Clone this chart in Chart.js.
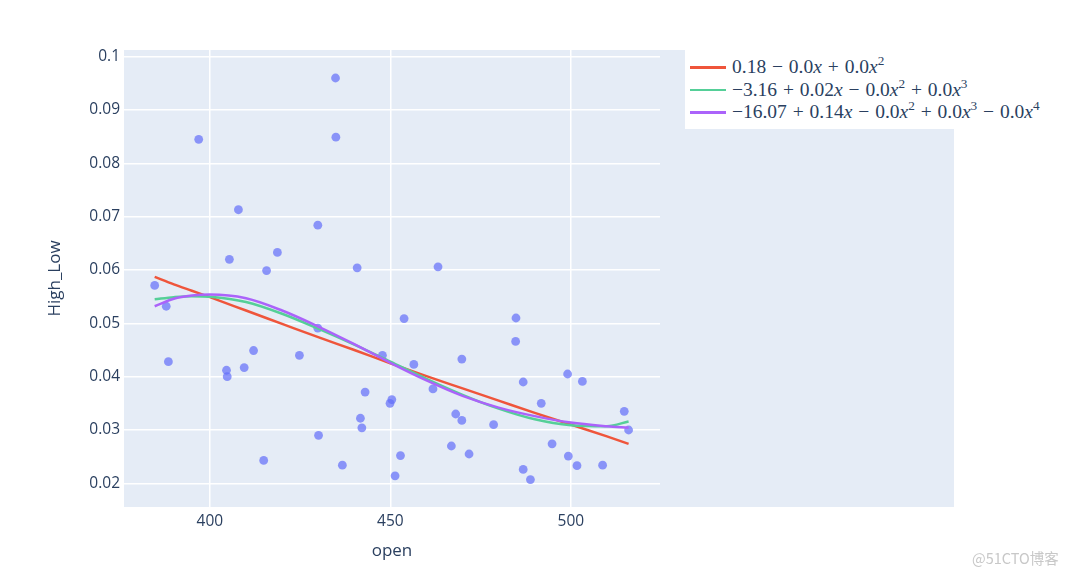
<!DOCTYPE html>
<html>
<head>
<meta charset="utf-8">
<script src="https://cdn.jsdelivr.net/npm/chart.js@4/dist/chart.umd.min.js"></script>
<style>
  body { margin: 0; background: #fff; }
  #wrap { position: relative; width: 1080px; height: 576px; }
  #legend {
    position: absolute; left: 685px; top: 50px; width: 380px; height: 79px;
    background: #fff; color: #2a3f5f;
    font-family: "Liberation Serif", "DejaVu Serif", serif; font-size: 19.5px;
  }
  .row { position: absolute; left: 0; height: 22px; line-height: 22px; white-space: nowrap; }
  .swatch { position: absolute; left: 5px; top: 10px; width: 36px; height: 2.5px; }
  .txt { position: absolute; left: 47px; top: 0; word-spacing: 1px; }
  .txt sup { font-size: 0.68em; line-height: 0; vertical-align: 0.6em; }
  #mark {
    position: absolute; left: 972px; top: 547px; color: #c8c8c8;
    font-family: "Noto Sans CJK SC", "Noto Sans", sans-serif; font-size: 14.5px;
  }
</style>
</head>
<body>
<div id="wrap">
  <canvas id="chart" width="1080" height="576"></canvas>
  <div id="legend"></div>
  <div id="mark">@51CTO博客</div>
</div>
<script>
// scatter points (open, High_Low)
const openVals = [384.7, 387.9, 388.5, 396.9, 404.6, 404.8, 405.4, 407.9, 409.5, 412.1,
  414.9, 415.7, 418.7, 424.8, 429.9, 429.9, 430.1, 434.8, 434.9, 436.7,
  440.8, 441.7, 442.1, 443.0, 447.8, 449.9, 450.4, 451.3, 452.8, 453.8,
  456.5, 461.8, 463.2, 466.9, 468.1, 469.8, 469.8, 471.8, 478.6, 484.8,
  484.7, 486.8, 486.8, 488.8, 491.8, 494.8, 499.1, 499.3, 501.7, 503.2,
  508.8, 514.8, 516.0];
const highLowVals = [0.0571, 0.0532, 0.0428, 0.0845, 0.0412, 0.0400, 0.0620, 0.0713, 0.0417, 0.0449,
  0.0243, 0.0599, 0.0633, 0.0440, 0.0684, 0.0491, 0.0290, 0.0960, 0.0849, 0.0234,
  0.0604, 0.0322, 0.0304, 0.0371, 0.0440, 0.0350, 0.0357, 0.0214, 0.0252, 0.0509,
  0.0423, 0.0377, 0.0606, 0.0270, 0.0330, 0.0318, 0.0433, 0.0255, 0.0310, 0.0510,
  0.0466, 0.0390, 0.0226, 0.0207, 0.0350, 0.0274, 0.0405, 0.0251, 0.0233, 0.0391,
  0.0234, 0.0335, 0.0300];

// fitted curves
const fitX = [384.7, 390, 395, 400, 410, 420, 430, 440, 450, 460, 470, 480, 490, 500, 510, 516];
const fit2 = [0.0587, 0.0573, 0.0561, 0.0549, 0.0524, 0.0499, 0.0474, 0.0450, 0.0425, 0.0401, 0.0378, 0.0355, 0.0332, 0.0310, 0.0288, 0.0274];
const fit3 = [0.0545, 0.0549, 0.0551, 0.0550, 0.0540, 0.0518, 0.0490, 0.0460, 0.0428, 0.0396, 0.0366, 0.0340, 0.0320, 0.0309, 0.0307, 0.0316];
const fit4 = [0.0532, 0.0546, 0.0552, 0.0554, 0.0547, 0.0524, 0.0494, 0.0461, 0.0426, 0.0393, 0.0364, 0.0342, 0.0326, 0.0314, 0.0307, 0.0304];

const fitNames = [
  '0.18 &minus; 0.0<i>x</i> + 0.0<i>x</i><sup>2</sup>',
  '&minus;3.16 + 0.02<i>x</i> &minus; 0.0<i>x</i><sup>2</sup> + 0.0<i>x</i><sup>3</sup>',
  '&minus;16.07 + 0.14<i>x</i> &minus; 0.0<i>x</i><sup>2</sup> + 0.0<i>x</i><sup>3</sup> &minus; 0.0<i>x</i><sup>4</sup>'
];
const fitColors = ['#EF553B', '#55cf98', '#AB63FA'];

const xTicks = [400, 450, 500];
const yTicks = [0.02, 0.03, 0.04, 0.05, 0.06, 0.07, 0.08, 0.09, 0.1];
const xRange = [376.2, 524.7];
const yRange = [0.01556, 0.10125];

const textColor = '#2a3f5f';

// legend
const legend = document.getElementById('legend');
fitNames.forEach((name, i) => {
  const row = document.createElement('div');
  row.className = 'row';
  row.style.top = (6 + i * 22.5) + 'px';
  row.innerHTML = `<div class="swatch" style="background:${fitColors[i]}"></div><div class="txt">${name}</div>`;
  legend.appendChild(row);
});

const plotBg = {
  id: 'plotBg',
  beforeDraw(chart) {
    const { ctx, chartArea: a } = chart;
    ctx.save();
    ctx.fillStyle = '#E5ECF6';
    ctx.fillRect(a.left, a.top, a.right - a.left + 294, a.bottom - a.top);
    ctx.restore();
  }
};

const fitSets = [fit2, fit3, fit4].map((vals, i) => ({
  type: 'line',
  label: fitNames[i],
  data: fitX.map((x, j) => ({ x: x, y: vals[j] })),
  borderColor: fitColors[i],
  borderWidth: 2.5,
  pointRadius: 0,
  cubicInterpolationMode: 'monotone',
  order: 3 - i
}));

new Chart(document.getElementById('chart').getContext('2d'), {
  type: 'scatter',
  data: {
    datasets: [{
      type: 'scatter',
      label: 'High_Low',
      data: openVals.map((x, i) => ({ x: x, y: highLowVals[i] })),
      backgroundColor: 'rgba(99,110,250,0.7)',
      borderWidth: 0,
      pointRadius: 4.4,
      order: 4
    }].concat(fitSets)
  },
  options: {
    responsive: false,
    animation: false,
    events: [],
    layout: { padding: { top: 50, right: 420, bottom: 0, left: 0 } },
    plugins: { legend: { display: false }, tooltip: { enabled: false } },
    scales: {
      x: {
        type: 'linear',
        min: xRange[0],
        max: xRange[1],
        afterBuildTicks: s => { s.ticks = xTicks.map(v => ({ value: v })); },
        afterFit: s => { s.height = 69; },
        grid: { color: '#ffffff', lineWidth: 1.5, drawTicks: false },
        border: { display: false },
        ticks: { padding: 5, color: textColor, font: { family: 'Open Sans', size: 15.5 } },
        title: {
          display: true, text: 'open', color: textColor,
          font: { family: 'Open Sans', size: 17 }, padding: { top: 0, bottom: 15 }
        }
      },
      y: {
        type: 'linear',
        min: yRange[0],
        max: yRange[1],
        afterBuildTicks: s => { s.ticks = yTicks.map(v => ({ value: v })); },
        afterFit: s => { s.width = 124; },
        grid: { color: '#ffffff', lineWidth: 1.5, drawTicks: false },
        border: { display: false },
        ticks: {
          padding: 4, color: textColor, font: { family: 'Open Sans', size: 15.5 },
          callback: v => String(parseFloat(v.toFixed(4)))
        },
        title: {
          display: true, text: 'High_Low', color: textColor,
          font: { family: 'Open Sans', size: 17 }, padding: { top: 45, bottom: 0 }
        }
      }
    }
  },
  plugins: [plotBg]
});
</script>
</body>
</html>
